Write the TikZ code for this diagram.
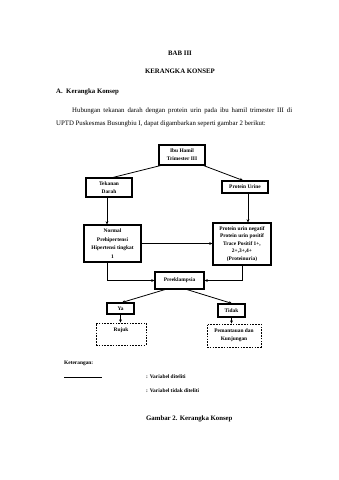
\documentclass[tikz,border=0pt]{standalone}
\usepackage{fontspec}
\setmainfont{Liberation Serif}
\usetikzlibrary{arrows.meta,calc}
\begin{document}
\begin{tikzpicture}[x=1pt,y=-1pt,
  box/.style={draw, line width=1.1pt, inner sep=0pt, align=center,
    font=\fontsize{5.4}{8}\selectfont\bfseries},
  dbox/.style={box, line width=0.9pt, dash pattern=on 1.6pt off 1.2pt},
  conn/.style={line width=0.8pt},
  arr/.style={conn, -{Stealth[length=3.2pt,width=2.8pt]}},
  body/.style={font=\fontsize{6.8}{8}\selectfont, inner sep=0pt},
  bodyb/.style={font=\fontsize{6.8}{8}\selectfont\bfseries, inner sep=0pt},
  legend/.style={font=\fontsize{5.4}{8}\selectfont\bfseries, inner sep=0pt, anchor=west}
]
\useasboundingbox[fill=white] (0,0) rectangle (339,480);

% header texts
\node[bodyb] (bab) at (180,53) {BAB III};
\node[bodyb] (kk) at (180,71) {KERANGKA KONSEP};
\node[bodyb, anchor=west] (sec) at (56,92) {A.\ \ Kerangka Konsep};
\node[body, anchor=west] (p1) at (72,111) {\makebox[220pt][s]{Hubungan tekanan darah dengan protein urin pada ibu hamil trimester III di}};
\node[body, anchor=west] (p2) at (56,124) {UPTD Puskesmas Busungbiu I, dapat digambarkan seperti gambar 2 berikut:};

% diagram
\node[box, minimum width=46pt, minimum height=20pt] (ibu) at (182,155) {Ibu Hamil\\Trimester III};
\node[box, minimum width=46pt, minimum height=19pt] (tek) at (109,187.5) {Tekanan\\Darah};
\node[box, minimum width=46pt, minimum height=12pt] (pu) at (245,187) {Protein Urine};
\node[box, minimum width=57pt, minimum height=37pt, font=\fontsize{5.4}{8.5}\selectfont\bfseries] (nor) at (112.5,243.5) {Normal\\Prehipertensi\\Hipertensi tingkat\\1};
\node[box, minimum width=58pt, minimum height=42pt, font=\fontsize{5.4}{7.4}\selectfont\bfseries] (pro) at (242,244) {Protein urin negatif\\Protein urin positif\\Trace Positif 1+,\\2+,3+,4+\\(Proteinuria)};
\node[box, minimum width=49pt, minimum height=17pt] (pre) at (179.5,280.5) {Preeklampsia};
\node[box, minimum width=27pt, minimum height=11pt] (ya) at (120.5,308.5) {Ya};
\node[box, minimum width=27pt, minimum height=13pt] (tid) at (231.5,310.5) {Tidak};
\node[dbox, minimum width=50pt, minimum height=22pt] (ruj) at (121,334) {Rujuk\\\mbox{}};
\node[dbox, minimum width=54pt, minimum height=23pt] (pem) at (234,335.5) {Pemantauan dan\\Kunjungan};

% connectors
\draw[conn] ([xshift=2pt]ibu.south west) -- ([xshift=4pt]tek.north);
\draw[arr] ([xshift=-2pt]ibu.south east) -- ([xshift=-2pt]pu.north);
\draw[arr] ([xshift=-2pt]tek.south) -- ([xshift=-2pt]tek.south |- nor.north);
\draw[arr] ([xshift=3pt]pu.south) -- ([xshift=3pt]pu.south |- pro.north);
\draw[arr] (nor.east) -- (nor.east -| pro.west);
\draw[arr] ([xshift=-5.5pt]nor.south) |- (pre.west);
\draw[arr] (pro.south) |- (pre.east);
\draw[arr] ([xshift=-14.5pt]pre.south) -- ([xshift=1.5pt]ya.north);
\draw[arr] ([xshift=7.5pt]pre.south) -- ([xshift=0.5pt]tid.north);
\draw[arr] (ya.south) -- (ya.south |- ruj.north);
\draw[arr] (tid.south) -- (tid.south |- pem.north);

% legend
\node[legend] (ket) at (64,363) {Keterangan:};
\coordinate (l1a) at (64,377);
\coordinate (l1b) at (102,377);
\draw[line width=0.8pt] (l1a) -- (l1b);
\node[legend] (v1) at (146,377) {: Variabel diteliti};
\node[legend] (v2) at (146,391) {: Variabel tidak diteliti};
\node[bodyb, anchor=west] (cap) at (146,419) {Gambar 2. Kerangka Konsep};
\end{tikzpicture}
\end{document}
